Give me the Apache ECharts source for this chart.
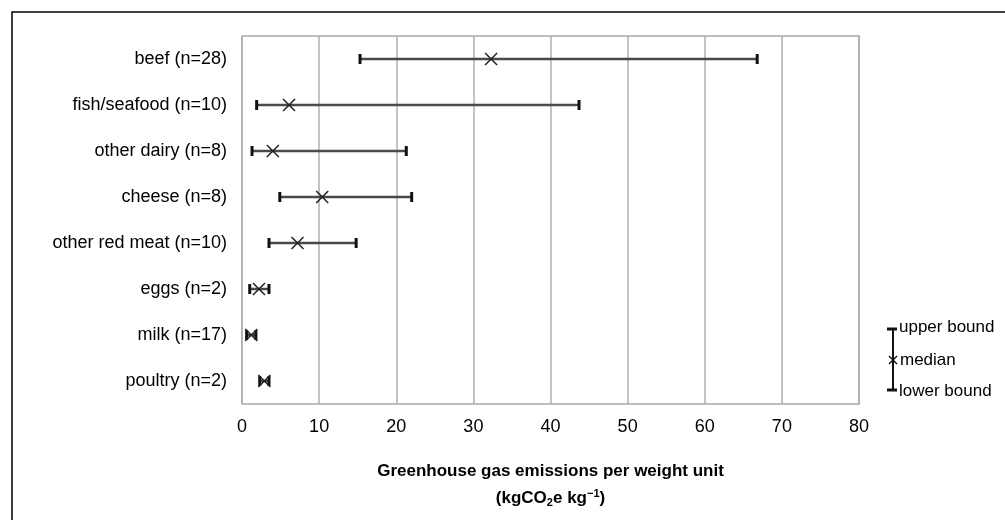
<!DOCTYPE html>
<html>
<head>
<meta charset="utf-8">
<script src="https://cdn.jsdelivr.net/npm/echarts@6/dist/echarts.min.js"></script>
<style>
  html, body { margin: 0; padding: 0; background: #fff; }
  #chart { width: 1005px; height: 520px; }
</style>
</head>
<body>
<div id="chart"></div>
<script>
// food categories, top to bottom
const categories = ['beef (n=28)', 'fish/seafood (n=10)', 'other dairy (n=8)', 'cheese (n=8)',
  'other red meat (n=10)', 'eggs (n=2)', 'milk (n=17)', 'poultry (n=2)'];
const lowerBound = [15.3, 1.9, 1.3, 4.9, 3.5, 1.0, 0.6, 2.3];
const median = [32.3, 6.1, 4.0, 10.4, 7.2, 2.2, 1.2, 2.9];
const upperBound = [66.8, 43.7, 21.3, 22.0, 14.8, 3.5, 1.8, 3.5];
const xTicks = [0, 10, 20, 30, 40, 50, 60, 70, 80];

const FONT = '"Liberation Sans", Arial, sans-serif';
const chart = echarts.init(document.getElementById('chart'));

const rows = categories.map((c, i) => [i, lowerBound[i], median[i], upperBound[i]]);

// one error bar: whisker line, two caps, x at the median
function renderRange(params, api) {
  const cat = api.value(0);
  const lo = api.coord([api.value(1), cat]);
  const md = api.coord([api.value(2), cat]);
  const hi = api.coord([api.value(3), cat]);
  const y = lo[1];
  const capH = 5, mk = 6;
  return {
    type: 'group',
    children: [
      { type: 'line', shape: { x1: lo[0], y1: y, x2: hi[0], y2: y },
        style: { stroke: '#4a4a4a', lineWidth: 2.5 } },
      { type: 'line', shape: { x1: lo[0], y1: y - capH, x2: lo[0], y2: y + capH },
        style: { stroke: '#111', lineWidth: 3 } },
      { type: 'line', shape: { x1: hi[0], y1: y - capH, x2: hi[0], y2: y + capH },
        style: { stroke: '#111', lineWidth: 3 } },
      { type: 'line', shape: { x1: md[0] - mk, y1: y - mk, x2: md[0] + mk, y2: y + mk },
        style: { stroke: '#222', lineWidth: 1.5 } },
      { type: 'line', shape: { x1: md[0] - mk, y1: y + mk, x2: md[0] + mk, y2: y - mk },
        style: { stroke: '#222', lineWidth: 1.5 } }
    ]
  };
}

const option = {
  backgroundColor: '#fff',
  animation: false,
  textStyle: { fontFamily: FONT },
  grid: {
    left: 242, top: 36, right: 146, bottom: 116,
    show: true, borderColor: '#a8a8a8', borderWidth: 1.5
  },
  xAxis: {
    type: 'value',
    min: xTicks[0],
    max: xTicks[xTicks.length - 1],
    interval: 10,
    axisLine: { show: false },
    axisTick: { show: false },
    splitLine: { lineStyle: { color: '#b0b0b0', width: 1.5 } },
    axisLabel: { fontSize: 18, color: '#000', margin: 14, fontFamily: FONT },
    name: '{t|Greenhouse gas emissions per weight unit}\n{b|(kgCO}{s|2}{b|e kg}{p|\u22121}{b|)}',
    nameLocation: 'middle',
    nameGap: 50,
    nameTextStyle: {
      rich: {
        t: { fontSize: 17, fontWeight: 'bold', color: '#000', lineHeight: 34, fontFamily: FONT },
        b: { fontSize: 17, fontWeight: 'bold', color: '#000', lineHeight: 20, fontFamily: FONT },
        s: { fontSize: 11, fontWeight: 'bold', color: '#000', lineHeight: 20, verticalAlign: 'bottom', fontFamily: FONT },
        p: { fontSize: 11, fontWeight: 'bold', color: '#000', lineHeight: 20, verticalAlign: 'top', fontFamily: FONT }
      }
    }
  },
  yAxis: {
    type: 'category',
    data: categories,
    inverse: true,
    axisLine: { show: false },
    axisTick: { show: false },
    splitLine: { show: false },
    axisLabel: { fontSize: 18, color: '#000', margin: 15, fontFamily: FONT }
  },
  series: [{
    type: 'custom',
    renderItem: renderRange,
    encode: { x: [1, 2, 3], y: 0 },
    data: rows
  }],
  graphic: [
    // outer frame (right and bottom edges fall outside the picture)
    { type: 'rect', shape: { x: 12, y: 12, width: 1100, height: 1000 },
      style: { fill: null, stroke: '#000', lineWidth: 1.5 }, silent: true },
    // key
    { type: 'line', shape: { x1: 893, y1: 329, x2: 893, y2: 390 }, style: { stroke: '#111', lineWidth: 2 } },
    { type: 'line', shape: { x1: 887, y1: 329, x2: 897, y2: 329 }, style: { stroke: '#111', lineWidth: 3 } },
    { type: 'line', shape: { x1: 887, y1: 390, x2: 897, y2: 390 }, style: { stroke: '#111', lineWidth: 3 } },
    { type: 'line', shape: { x1: 889, y1: 356, x2: 897, y2: 364 }, style: { stroke: '#111', lineWidth: 1.5 } },
    { type: 'line', shape: { x1: 889, y1: 364, x2: 897, y2: 356 }, style: { stroke: '#111', lineWidth: 1.5 } },
    { type: 'text', x: 899, y: 327, style: { text: 'upper bound', fontSize: 17, fill: '#000', fontFamily: FONT, verticalAlign: 'middle' } },
    { type: 'text', x: 900, y: 360, style: { text: 'median', fontSize: 17, fill: '#000', fontFamily: FONT, verticalAlign: 'middle' } },
    { type: 'text', x: 899, y: 391, style: { text: 'lower bound', fontSize: 17, fill: '#000', fontFamily: FONT, verticalAlign: 'middle' } }
  ]
};

chart.setOption(option);
</script>
</body>
</html>
